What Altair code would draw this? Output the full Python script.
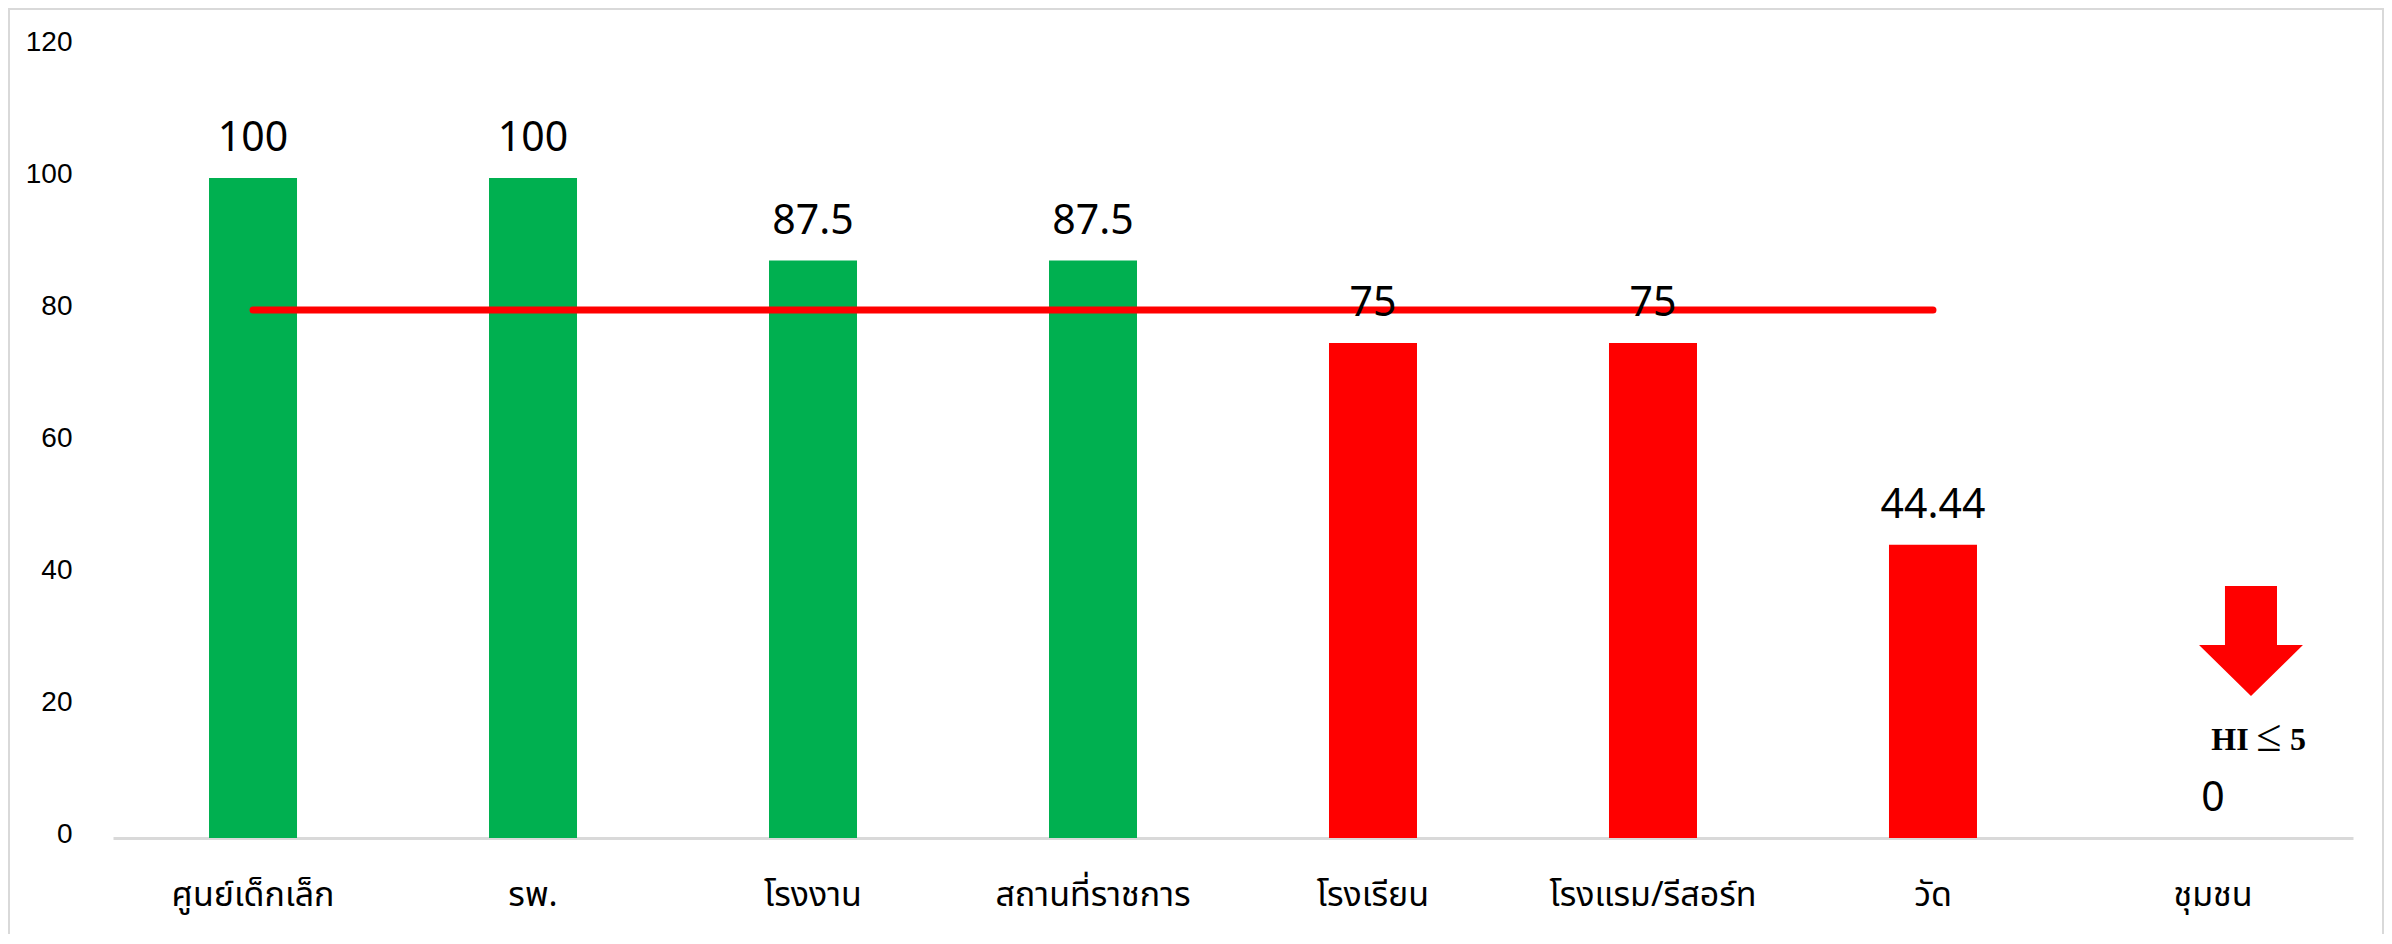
import altair as alt
import pandas as pd

# ---- data ----
categories = ["ศูนย์เด็กเล็ก", "รพ.", "โรงงาน", "สถานที่ราชการ",
              "โรงเรียน", "โรงแรม/รีสอร์ท", "วัด", "ชุมชน"]
values = [100, 100, 87.5, 87.5, 75, 75, 44.44, 0]
target = 80
target_categories = categories[:7]
y_ticks = [0, 20, 40, 60, 80, 100, 120]
note_parts = ["HI", "≤", "5"]
note_category = "ชุมชน"
arrow_value = 29.85
note_value = 13.3

GREEN = "#00B050"
RED = "#FF0000"
THAI_FONT = "Tahoma, 'Leelawadee UI', 'Noto Sans Thai', 'Noto Sans', sans-serif"

bars_df = pd.DataFrame({"cat": categories, "value": values,
                        "label": [f"{v:g}" for v in values]})
line_df = pd.DataFrame({"cat": target_categories,
                        "value": [target] * len(target_categories)})
arrow_df = pd.DataFrame({"cat": [note_category], "value": [arrow_value]})
frame_df = pd.DataFrame({"a": [0]})


def note_df(part):
    return pd.DataFrame({"cat": [note_category], "value": [note_value], "label": [part]})


xscale = alt.Scale(domain=categories, paddingInner=0.6857, paddingOuter=0.3429)
yscale = alt.Scale(domain=[0, 120], nice=False, zero=True)

xaxis = alt.Axis(labelAngle=0, labelFont=THAI_FONT, labelFontSize=34, labelColor="#000000",
                 labelPadding=67, labelBaseline="alphabetic", labelLimit=0,
                 ticks=False, tickSize=0,
                 domainColor="#d9d9d9", domainWidth=3, grid=False, title=None)
yaxis = alt.Axis(values=y_ticks, labelFont="Liberation Sans", labelFontSize=28,
                 labelColor="#000000", labelPadding=41, labelOffset=-4,
                 domain=False, ticks=False, tickSize=0, grid=False, title=None)

X = alt.X("cat:N", sort=categories, scale=xscale, axis=xaxis, title=None)
Y = alt.Y("value:Q", scale=yscale, axis=yaxis, title=None)

bars = alt.Chart(bars_df).mark_bar().encode(
    x=X, y=Y,
    color=alt.condition(alt.datum.value >= target, alt.value(GREEN), alt.value(RED)),
)

line = alt.Chart(line_df).mark_line(color=RED, strokeWidth=7, strokeCap="round").encode(x=X, y=Y)

labels = alt.Chart(bars_df).mark_text(
    font="Noto Sans", fontSize=41, color="#000000", baseline="alphabetic", dy=-27
).encode(x=X, y=Y, text="label:N")

arrow_path = ("M-0.473,-1 L0.473,-1 L0.473,0.073 L0.945,0.073 L0,1 "
              "L-0.945,0.073 L-0.473,0.073 Z")
arrow = alt.Chart(arrow_df).mark_point(
    shape=arrow_path, size=12100, filled=True, color=RED, opacity=1, strokeWidth=0, xOffset=38
).encode(x=X, y=Y)

note_hi = alt.Chart(note_df(note_parts[0])).mark_text(
    font="Liberation Serif", fontWeight="bold", fontSize=32, color="#000000",
    baseline="alphabetic", xOffset=17
).encode(x=X, y=Y, text="label:N")
note_le = alt.Chart(note_df(note_parts[1])).mark_text(
    font="Liberation Serif", fontSize=46, color="#000000",
    baseline="alphabetic", xOffset=56, dy=1
).encode(x=X, y=Y, text="label:N")
note_5 = alt.Chart(note_df(note_parts[2])).mark_text(
    font="Liberation Serif", fontWeight="bold", fontSize=32, color="#000000",
    baseline="alphabetic", xOffset=85
).encode(x=X, y=Y, text="label:N")

frame = alt.Chart(frame_df).mark_rect(fillOpacity=0, stroke="#d9d9d9", strokeWidth=2).encode(
    x=alt.value(-104), x2=alt.value(2270), y=alt.value(-37), y2=alt.value(1000)
)

chart = alt.layer(bars, line, labels, arrow, note_hi, note_le, note_5, frame).properties(
    width=2240, height=792,
    autosize=alt.AutoSizeParams(type="none"),
    padding={"left": 105, "top": 38, "right": 31, "bottom": 96},
    background="#ffffff",
).configure_view(strokeWidth=0)

chart.save("out.html", embed_options={"renderer": "svg", "actions": False})
